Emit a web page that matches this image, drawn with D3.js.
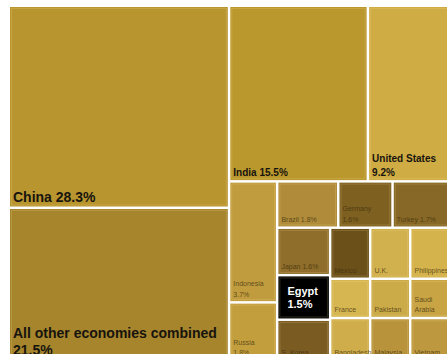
<!DOCTYPE html>
<html>
<head>
<meta charset="utf-8">
<script src="https://cdn.jsdelivr.net/npm/d3@7"></script>
<style>
  body { margin: 0; background: #fff; }
  svg { display: block; font-family: "Liberation Sans", Arial, sans-serif; }
</style>
</head>
<body>
<svg width="447" height="354"></svg>
<script>
// share of the world total, per economy (percent)
var countries = ["China", "All other economies combined", "India", "United States",
  "Indonesia", "Russia", "Brazil", "Germany", "Turkey",
  "Japan", "Egypt", "S. Korea", "Mexico", "France", "Bangladesh",
  "U.K.", "Pakistan", "Malaysia", "Philippines", "Saudi Arabia", "Vietnam"];
var shares = [28.3, 21.5, 15.5, 9.2,
  3.7, 1.8, 1.8, 1.6, 1.7,
  1.6, 1.5, 1.4, 1.3, 1.0, 1.1,
  1.3, 1.0, 1.1, 1.3, 1.0, 1.1];
// which labels show the percentage
var showShare = [true, true, true, true,
  true, true, true, true, true,
  true, true, false, false, false, false,
  false, false, false, false, false, false];
// how the tiles are grouped (indexes into countries)
var groups = [[0, 1], [[2, 3], [[4, 5], [[6, 7, 8], [[9, 10, 11], [12, 13, 14], [15, 16, 17], [18, 19, 20]]]]]];

var colors = {
  "China": "#b99530", "All other economies combined": "#a6852d", "India": "#bb982e",
  "United States": "#cfac44", "Indonesia": "#c09c3e", "Russia": "#c29e3d",
  "Brazil": "#b08c3a", "Germany": "#7e6020", "Turkey": "#876826", "Japan": "#8f6d2a",
  "Egypt": "#000000", "S. Korea": "#7a5b22", "Mexico": "#6b5019", "France": "#d6b651",
  "Bangladesh": "#cfad4a", "U.K.": "#d1b04e", "Pakistan": "#cbaa48", "Malaysia": "#b8933c",
  "Philippines": "#d4b24c", "Saudi Arabia": "#c9a444", "Vietnam": "#bd983e"
};
// names that break onto two lines
var twoLine = { "All other economies combined": true, "United States": true, "Indonesia": true,
  "Germany": true, "Russia": true, "Egypt": true };

function build(g) {
  if (Array.isArray(g)) return { children: g.map(build) };
  return { name: countries[g], value: shares[g], pct: showShare[g] };
}

var svg = d3.select('svg').append('g').attr('transform', 'translate(10,7)');

var root = d3.hierarchy(build(groups)).sum(function(d) { return d.value || 0; });

d3.treemap()
  .tile(d3.treemapSliceDice)
  .size([439, 353])
  .paddingInner(2.5)(root);

var cells = svg.selectAll('g.cell')
  .data(root.leaves())
  .enter()
  .append('g')
  .attr('class', 'cell')
  .attr('transform', function(d) { return 'translate(' + d.x0 + ',' + d.y0 + ')'; });

cells.append('rect')
  .attr('width', function(d) { return d.x1 - d.x0; })
  .attr('height', function(d) { return d.y1 - d.y0; })
  .attr('fill', function(d) { return colors[d.data.name]; });

// faint lighter edge inside each tile
cells.append('rect')
  .attr('x', 1.5).attr('y', 1.5)
  .attr('width', function(d) { return Math.max(0, d.x1 - d.x0 - 3); })
  .attr('height', function(d) { return Math.max(0, d.y1 - d.y0 - 3); })
  .attr('fill', 'none')
  .attr('stroke', 'rgba(255,235,160,0.18)');

function labelLines(d) {
  var name = d.data.name;
  var pct = d.data.pct ? d.data.value.toFixed(1) + '%' : '';
  if (name == "Saudi Arabia") return ["Saudi", "Arabia"];
  if (twoLine[name]) return pct ? [name, pct] : [name];
  return pct ? [name + ' ' + pct] : [name];
}

cells.each(function(d) {
  var g = d3.select(this);
  var lines = labelLines(d);
  var h = d.y1 - d.y0;
  var big = d.value > 20, mid = d.value > 5;
  var size = big ? 14 : (mid ? 10 : 7);
  var lh = big ? 17.5 : (mid ? 13.5 : 10.5);

  if (d.data.name == "Egypt") {
    g.selectAll('text').data(lines).enter().append('text')
      .attr('x', 9)
      .attr('y', function(t, i) { return 19 + i * 13; })
      .attr('fill', '#fff')
      .style('font-size', '11px')
      .style('font-weight', 'bold')
      .text(function(t) { return t; });
    return;
  }

  g.selectAll('text').data(lines).enter().append('text')
    .attr('x', 3)
    .attr('y', function(t, i) { return h - 4.5 - (lines.length - 1 - i) * lh; })
    .attr('fill', (big || mid) ? '#17140d' : '#3d2e0c')
    .attr('fill-opacity', (big || mid) ? 1 : 0.75)
    .style('font-size', size + 'px')
    .style('font-weight', (big || mid) ? 'bold' : 'normal')
    .text(function(t) { return t; });
});
</script>
</body>
</html>
